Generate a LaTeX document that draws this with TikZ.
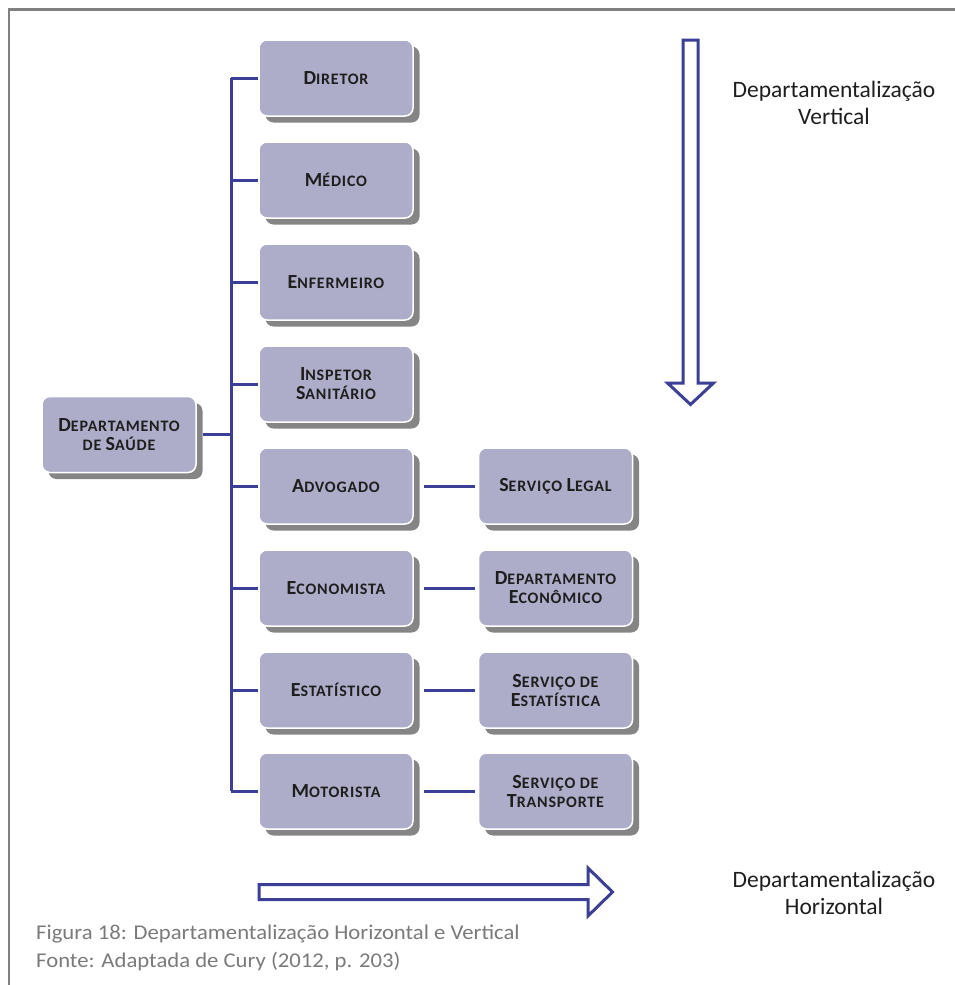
\documentclass[tikz,border=0pt]{standalone}
\usepackage{fontspec}
\setmainfont{Carlito}
\newfontfamily\unitfont[LetterSpace=5]{Carlito}
\newfontfamily\capfont[FakeStretch=1.08]{Carlito}
\usetikzlibrary{shadows}
\definecolor{boxfill}{HTML}{ADADC9}
\definecolor{linkblue}{HTML}{3C3F96}
\definecolor{framegray}{HTML}{808080}
\definecolor{shadegray}{HTML}{858585}
\definecolor{captiongray}{HTML}{7A7A7A}
\definecolor{labeltext}{HTML}{1E1E1E}
% fake small capitals: large initial, smaller remaining capitals
\newcommand\capBig[1]{{\fontsize{20}{19}\selectfont#1}}
\newcommand\capSmall[1]{{\fontsize{16}{19}\selectfont#1}}
\begin{document}
\begin{tikzpicture}[x=1pt,y=-1pt,
  unitbox/.style={rounded corners=8pt, fill=boxfill, draw=white, line width=1.5pt,
    minimum width=154pt, minimum height=76pt, align=center, text=labeltext,
    font=\unitfont\fontsize{16}{19}\selectfont\bfseries, inner sep=2pt,
    drop shadow={shadow xshift=6.5pt, shadow yshift=-6.5pt, fill=shadegray, opacity=1}},
  link/.style={draw=linkblue, line width=3pt},
  bigarrow/.style={draw=linkblue, line width=3pt, fill=white},
  sidelabel/.style={align=center, font=\fontsize{23.5}{27.5}\selectfont, text=labeltext},
  caption/.style={anchor=west, font=\capfont\fontsize{21}{27}\selectfont, text=captiongray, inner sep=0pt}
]
\useasboundingbox (0,0) rectangle (955,985);
% page frame
\draw[framegray, line width=2.5pt] (9,985) -- (9,9.5) -- (955,9.5);

% root unit
\node[unitbox] (root) at (119,434.5) {\capBig{D}\capSmall{EPARTAMENTO}\\\capSmall{DE }\capBig{S}\capSmall{AÚDE}};

% vertical chain of positions
\node[unitbox] (dir) at (336,78)   {\capBig{D}\capSmall{IRETOR}};
\node[unitbox] (med) at (336,180)  {\capBig{M}\capSmall{ÉDICO}};
\node[unitbox] (enf) at (336,282)  {\capBig{E}\capSmall{NFERMEIRO}};
\node[unitbox] (ins) at (336,384)  {\capBig{I}\capSmall{NSPETOR}\\\capBig{S}\capSmall{ANITÁRIO}};
\node[unitbox] (adv) at (336,486)  {\capBig{A}\capSmall{DVOGADO}};
\node[unitbox] (eco) at (336,588)  {\capBig{E}\capSmall{CONOMISTA}};
\node[unitbox] (est) at (336,690)  {\capBig{E}\capSmall{STATÍSTICO}};
\node[unitbox] (mot) at (336,791)  {\capBig{M}\capSmall{OTORISTA}};

% horizontal services
\node[unitbox] (leg) at (555.5,486) {\capBig{S}\capSmall{ERVIÇO }\capBig{L}\capSmall{EGAL}};
\node[unitbox] (dec) at (555.5,588) {\capBig{D}\capSmall{EPARTAMENTO}\\\capBig{E}\capSmall{CONÔMICO}};
\node[unitbox] (sest) at (555.5,690) {\capBig{S}\capSmall{ERVIÇO DE}\\\capBig{E}\capSmall{STATÍSTICA}};
\node[unitbox] (stra) at (555.5,791) {\capBig{S}\capSmall{ERVIÇO DE}\\\capBig{T}\capSmall{RANSPORTE}};

% bus line
\coordinate (bus) at (231,0);
\draw[link] (dir.west -| bus) -- (mot.west -| bus);
\draw[link, shorten <=6pt] (root.east) -- (root.east -| bus);
\foreach \n in {dir,med,enf,ins,adv,eco,est,mot}
  \draw[link] (\n.west -| bus) -- (\n.west);
\draw[link, shorten <=10pt, shorten >=3pt] (adv.east) -- (leg.west);
\draw[link, shorten <=10pt, shorten >=3pt] (eco.east) -- (dec.west);
\draw[link, shorten <=10pt, shorten >=3pt] (est.east) -- (sest.west);
\draw[link, shorten <=10pt, shorten >=3pt] (mot.east) -- (stra.west);

% block arrows
\draw[bigarrow] (683,40) -- (698,40) -- (698,383) -- (713.5,383) -- (690.5,404.5)
  -- (667.5,383) -- (683,383) -- cycle;
\draw[bigarrow] (259,884.5) -- (588,884.5) -- (588,868) -- (612.5,892) -- (588,916)
  -- (588,899.5) -- (259,899.5) -- cycle;

\node[sidelabel] (vlab) at (834,103) {Departamentalização\\Vertical};
\node[sidelabel] (hlab) at (834,893) {Departamentalização\\Horizontal};

\node[caption] (cap1) at (36,934) {Figura 18: Departamentalização Horizontal e Vertical};
\node[caption] (cap2) at (36,961) {Fonte: Adaptada de Cury (2012, p. 203)};
\end{tikzpicture}
\end{document}
